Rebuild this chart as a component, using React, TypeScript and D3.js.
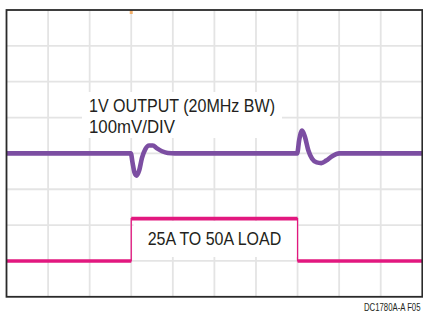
import React from "react";
import * as d3 from "d3";

// Oscilloscope trace data (x in divisions 0..10, y in divisions -4..4, 0 = centre)
const outTime = [0, 2.99, 3.03, 3.08, 3.13, 3.19, 3.26, 3.34, 3.43, 3.52, 3.62, 3.74, 3.88, 4.05, 6.99, 7.04, 7.11, 7.18, 7.26, 7.35, 7.46, 7.57, 7.69, 7.83, 8.0, 10];
const outVolt = [0, 0, -0.25, -0.54, -0.62, -0.48, -0.12, 0.12, 0.22, 0.22, 0.14, 0.06, 0.01, 0, 0, 0.38, 0.64, 0.45, 0.08, -0.15, -0.25, -0.27, -0.2, -0.08, 0, 0];
const loadTime = [0, 3.0, 3.0, 7.0, 7.0, 10];
const loadLevel = [-3, -3, -1.82, -1.82, -3, -3];

const xDivs = d3.range(1, 10);
const yDivs = d3.range(-3, 4);

const labelOut = ["1V OUTPUT (20MHz BW)", "100mV/DIV"];
const labelLoad = "25A TO 50A LOAD";
const footer = "DC1780A-A F05";

const W = 423;
const H = 314;
const L = 6.5, R = 422.3, T = 10, B = 296.8;

export default function App() {
  const x = d3.scaleLinear().domain([0, 10]).range([L, R]);
  const y = d3.scaleLinear().domain([-4, 4]).range([B, T]);
  const font = "'Liberation Sans', Arial, sans-serif";

  const outPts: [number, number][] = outTime.map((t, i) => [t, outVolt[i]]);
  const loadPts: [number, number][] = loadTime.map((t, i) => [t, loadLevel[i]]);
  const line = d3.line<[number, number]>().x(d => x(d[0])).y(d => y(d[1]));
  const outLine = d3.line<[number, number]>().x(d => x(d[0])).y(d => y(d[1])).curve(d3.curveMonotoneX);

  const loadFlat = loadPts.slice(1).map((p, i) => [loadPts[i], p] as [number, number][]).filter(s => s[0][1] === s[1][1]);

  return (
    <svg width={W} height={H} style={{ position: "absolute", left: 0, top: 0, background: "#fff" }}>
      <rect x={0} y={0} width={W} height={H} fill="#fff" />
      {xDivs.map(d => (
        <line key={"gx" + d} x1={x(d)} x2={x(d)} y1={T} y2={B} stroke="#e4e4e4" strokeWidth={1.8} />
      ))}
      {yDivs.map(d => (
        <line key={"gy" + d} x1={L} x2={R} y1={y(d)} y2={y(d)} stroke="#e4e4e4" strokeWidth={1.8} />
      ))}
      {/* label backgrounds */}
      <rect x={82} y={92} width={200} height={46} fill="#fff" />
      <rect x={133.5} y={221} width={164} height={36} fill="#fff" />
      {/* trigger marker */}
      <rect x={x(3) - 1.5} y={T} width={3} height={4} fill="#f4a04a" opacity={0.8} />
      {/* load trace */}
      <path d={line(loadPts) || ""} fill="none" stroke="#e2187f" strokeWidth={1.3} />
      {loadFlat.map((s, i) => (
        <path key={"lf" + i} d={line(s) || ""} fill="none" stroke="#e2187f" strokeWidth={3.6} />
      ))}
      {/* output trace */}
      <path d={outLine(outPts) || ""} fill="none" stroke="#7c4ea2" strokeWidth={4.6} strokeLinejoin="round" />
      {/* frame */}
      <rect x={L} y={T} width={R - L} height={B - T} fill="none" stroke="#2a2a2a" strokeWidth={1.8} />
      {/* labels */}
      <text x={89} y={112.3} fontFamily={font} fontSize={19} fill="#231f20" textLength={186} lengthAdjust="spacingAndGlyphs">{labelOut[0]}</text>
      <text x={89} y={133.3} fontFamily={font} fontSize={19} fill="#231f20" textLength={86} lengthAdjust="spacingAndGlyphs">{labelOut[1]}</text>
      <text x={147.7} y={245} fontFamily={font} fontSize={19} fill="#231f20" textLength={133.5} lengthAdjust="spacingAndGlyphs">{labelLoad}</text>
      <text transform="translate(420.5,311) scale(0.74,1)" fontFamily={font} fontSize={10.5} fill="#231f20" textAnchor="end">{footer}</text>
    </svg>
  );
}
